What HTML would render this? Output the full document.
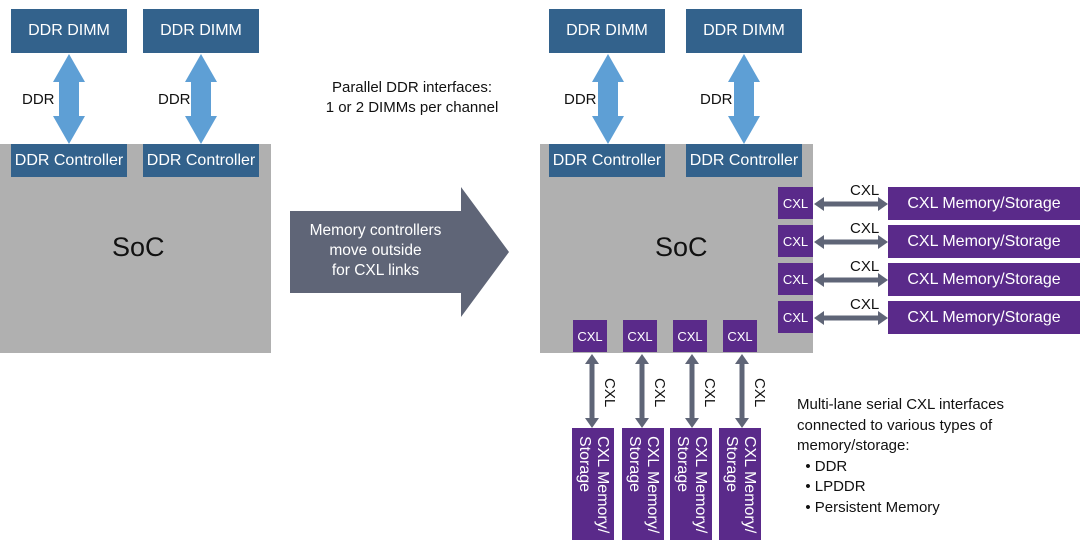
<!DOCTYPE html>
<html><head><meta charset="utf-8"><style>
body{margin:0;width:1080px;height:543px;background:#fff;position:relative;overflow:hidden;font-family:"Liberation Sans",sans-serif}
div{position:absolute;box-sizing:border-box}
.b{background:#33628c;color:#fff;font-size:16px;display:flex;align-items:center;justify-content:center}
.soc{background:#b0b0b0}
.p{background:#5a2a8a;color:#fff;display:flex;align-items:center;justify-content:center}
.s{font-size:13px}
.m{font-size:16px}
.t{color:#111;font-size:15px}
.v{writing-mode:vertical-rl;font-size:16px;line-height:18px;text-align:left;justify-content:flex-start;padding-top:8px}
</style></head><body>
<!-- left -->
<div class="soc" style="left:0;top:144px;width:271px;height:209px"></div>
<div class="b" style="left:11px;top:9px;width:116px;height:44px">DDR DIMM</div>
<div class="b" style="left:143px;top:9px;width:116px;height:44px">DDR DIMM</div>
<div class="b" style="left:11px;top:144px;width:116px;height:33px">DDR Controller</div>
<div class="b" style="left:143px;top:144px;width:116px;height:33px">DDR Controller</div>
<div style="left:112px;top:232px;font-size:27px;color:#111">SoC</div>
<div class="t" style="left:22px;top:91px">DDR</div>
<div class="t" style="left:158px;top:91px">DDR</div>
<!-- right -->
<div class="soc" style="left:540px;top:144px;width:273px;height:209px"></div>
<div class="b" style="left:549px;top:9px;width:116px;height:44px">DDR DIMM</div>
<div class="b" style="left:686px;top:9px;width:116px;height:44px">DDR DIMM</div>
<div class="b" style="left:549px;top:144px;width:116px;height:33px">DDR Controller</div>
<div class="b" style="left:686px;top:144px;width:116px;height:33px">DDR Controller</div>
<div style="left:655px;top:232px;font-size:27px;color:#111">SoC</div>
<div class="t" style="left:564px;top:91px">DDR</div>
<div class="t" style="left:700px;top:91px">DDR</div>
<svg width="1080" height="543" style="position:absolute;left:0;top:0">
<defs>
<g id="da"><polygon points="0,-45 -16,-17 -10,-17 -10,17 -16,17 0,45 16,17 10,17 10,-17 16,-17" fill="#5e9fd5"/></g>
<g id="ha"><polygon points="-37,0 -27,-7 -27,-2.5 27,-2.5 27,-7 37,0 27,7 27,2.5 -27,2.5 -27,7" fill="#5f6577"/></g>
<g id="va"><polygon points="0,-37 -7,-27 -2.5,-27 -2.5,27 -7,27 0,37 7,27 2.5,27 2.5,-27 7,-27" fill="#5f6577"/></g>
</defs>
<use href="#da" x="69" y="99"/><use href="#da" x="201" y="99"/>
<use href="#da" x="608" y="99"/><use href="#da" x="744" y="99"/>
<polygon points="290,211 461,211 461,187 509,252 461,317 461,293 290,293" fill="#5f6577"/>
<use href="#ha" x="851" y="204"/><use href="#ha" x="851" y="242"/><use href="#ha" x="851" y="280"/><use href="#ha" x="851" y="318"/>
<use href="#va" x="592" y="391"/><use href="#va" x="642" y="391"/><use href="#va" x="692" y="391"/><use href="#va" x="742" y="391"/>
</svg>
<div style="left:290px;top:221px;width:171px;text-align:center;color:#fff;font-size:15.5px;line-height:20px">Memory controllers<br>move outside<br>for CXL links</div>
<div class="t" style="left:300px;top:78px;width:224px;text-align:center;line-height:20px">Parallel DDR interfaces:<br>1 or 2 DIMMs per channel</div>
<div class="p s" style="left:778px;top:187px;width:35px;height:32px">CXL</div>
<div class="p s" style="left:778px;top:225px;width:35px;height:32px">CXL</div>
<div class="p s" style="left:778px;top:263px;width:35px;height:32px">CXL</div>
<div class="p s" style="left:778px;top:301px;width:35px;height:32px">CXL</div>
<div class="p m" style="left:888px;top:187px;width:192px;height:33px">CXL Memory/Storage</div>
<div class="p m" style="left:888px;top:225px;width:192px;height:33px">CXL Memory/Storage</div>
<div class="p m" style="left:888px;top:263px;width:192px;height:33px">CXL Memory/Storage</div>
<div class="p m" style="left:888px;top:301px;width:192px;height:33px">CXL Memory/Storage</div>
<div class="t" style="left:850px;top:182px">CXL</div>
<div class="t" style="left:850px;top:220px">CXL</div>
<div class="t" style="left:850px;top:258px">CXL</div>
<div class="t" style="left:850px;top:296px">CXL</div>
<div class="p s" style="left:573px;top:320px;width:34px;height:32px">CXL</div>
<div class="p s" style="left:623px;top:320px;width:34px;height:32px">CXL</div>
<div class="p s" style="left:673px;top:320px;width:34px;height:32px">CXL</div>
<div class="p s" style="left:723px;top:320px;width:34px;height:32px">CXL</div>
<div class="t" style="left:601px;top:378px;writing-mode:vertical-rl">CXL</div>
<div class="t" style="left:651px;top:378px;writing-mode:vertical-rl">CXL</div>
<div class="t" style="left:701px;top:378px;writing-mode:vertical-rl">CXL</div>
<div class="t" style="left:751px;top:378px;writing-mode:vertical-rl">CXL</div>
<div class="p v" style="left:572px;top:428px;width:42px;height:112px">CXL Memory/<br>Storage</div>
<div class="p v" style="left:622px;top:428px;width:42px;height:112px">CXL Memory/<br>Storage</div>
<div class="p v" style="left:670px;top:428px;width:42px;height:112px">CXL Memory/<br>Storage</div>
<div class="p v" style="left:719px;top:428px;width:42px;height:112px">CXL Memory/<br>Storage</div>
<div class="t" style="left:797px;top:395px;line-height:20.5px">Multi-lane serial CXL interfaces<br>connected to various types of<br>memory/storage:<br>&nbsp;&nbsp;• DDR<br>&nbsp;&nbsp;• LPDDR<br>&nbsp;&nbsp;• Persistent Memory</div>
</body></html>
